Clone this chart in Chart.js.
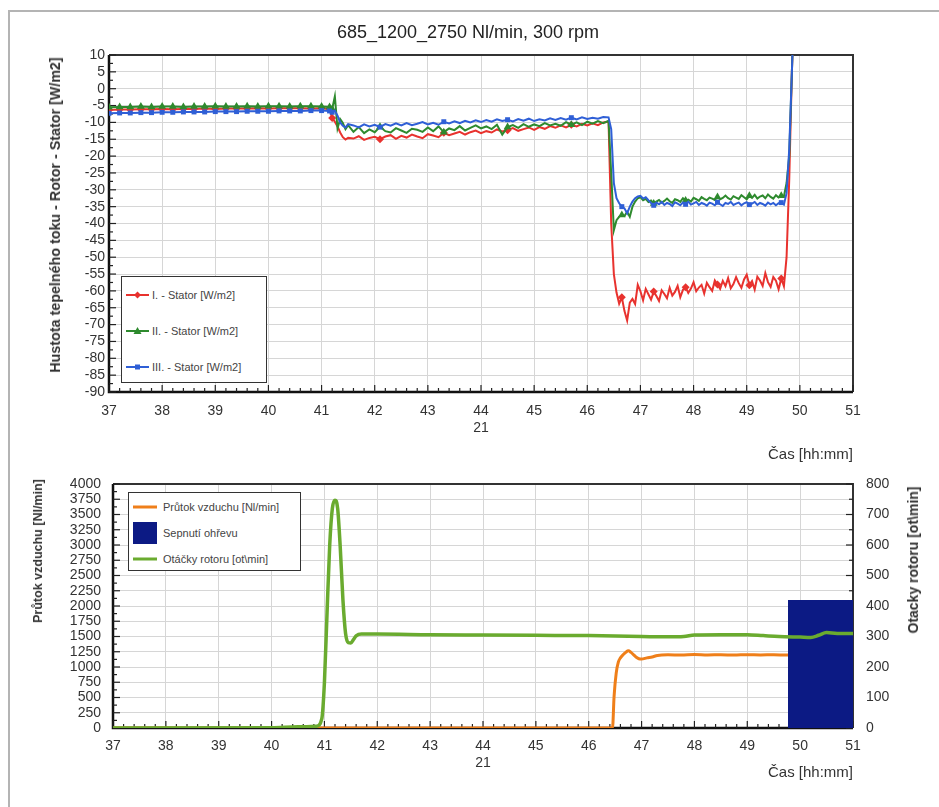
<!DOCTYPE html>
<html lang="cs">
<head>
<meta charset="utf-8">
<title>685_1200_2750 Nl/min, 300 rpm</title>
<script src="https://cdn.jsdelivr.net/npm/chart.js@4/dist/chart.umd.min.js"></script>
<style>
    body { margin: 0; background: #fff; font-family: "Liberation Sans", Arial, sans-serif; }
    #plocha { position: relative; width: 939px; height: 807px; overflow: hidden; }
    #okraj { position: absolute; left: 8px; top: 10px; right: -10px; bottom: -10px;
             border-top: 2px solid #b4b4b4; border-left: 2px solid #b4b4b4; }
    canvas { position: absolute; left: 0; }
    .nadpis { position: absolute; left: 468px; top: 32px; transform: translate(-50%, -50%);
              font-size: 18px; color: #222; white-space: nowrap; }
    .osa { position: absolute; transform: translate(-50%, -50%) rotate(-90deg);
           font-size: 13px; font-weight: bold; color: #333; white-space: nowrap; }
    .legenda { position: absolute; background: #fff; border: 1px solid #333; box-sizing: border-box; }
    .polozka { position: absolute; font-size: 11px; color: #444; white-space: nowrap; transform: translateY(-50%); }
    .ikona { position: absolute; transform: translateY(-50%); }
</style>
</head>
<body>
<div id="plocha">
    <div id="okraj"></div>
    <canvas id="grafHorni" width="939" height="464" style="top:0"></canvas>
    <canvas id="grafDolni" width="939" height="343" style="top:464px"></canvas>

    <div class="nadpis">685_1200_2750 Nl/min, 300 rpm</div>
    <div class="osa" style="left:55px; top:215px; font-size:14.3px">Hustota tepelného toku - Rotor - Stator [W/m2]</div>
    <div class="osa" style="left:38px; top:551px; font-size:12.5px">Průtok vzduchu [Nl/min]</div>
    <div class="osa" style="left:913px; top:560px; font-size:14px">Otacky rotoru [ot\min]</div>

    <!-- legenda horniho grafu -->
    <div class="legenda" style="left:121px; top:276px; width:146px; height:107px">
        <svg class="ikona" style="left:4px; top:18px" width="24" height="10">
            <line x1="0" y1="5" x2="23" y2="5" stroke="#e8322e" stroke-width="2"/>
            <polygon points="11.5,1.5 15,5 11.5,8.5 8,5" fill="#e8322e"/>
        </svg>
        <div class="polozka" style="left:30px; top:18px">I. - Stator [W/m2]</div>
        <svg class="ikona" style="left:4px; top:54px" width="24" height="10">
            <line x1="0" y1="5" x2="23" y2="5" stroke="#2e8a2e" stroke-width="2"/>
            <polygon points="11.5,1 15.5,8 7.5,8" fill="#2e8a2e"/>
        </svg>
        <div class="polozka" style="left:30px; top:54px">II. - Stator [W/m2]</div>
        <svg class="ikona" style="left:4px; top:90px" width="24" height="10">
            <line x1="0" y1="5" x2="23" y2="5" stroke="#2f5fd6" stroke-width="2"/>
            <rect x="9" y="2.5" width="5" height="5" fill="#2f5fd6"/>
        </svg>
        <div class="polozka" style="left:30px; top:90px">III. - Stator [W/m2]</div>
    </div>

    <!-- legenda dolniho grafu -->
    <div class="legenda" style="left:128px; top:492px; width:173px; height:79px">
        <svg class="ikona" style="left:4px; top:14px" width="24" height="6">
            <line x1="0" y1="3" x2="24" y2="3" stroke="#ef7f1a" stroke-width="3"/>
        </svg>
        <div class="polozka" style="left:34px; top:14px">Průtok vzduchu [Nl/min]</div>
        <div class="ikona" style="left:4px; top:40px; width:24px; height:22px; background:#0c1a84"></div>
        <div class="polozka" style="left:34px; top:40px">Sepnutí ohřevu</div>
        <svg class="ikona" style="left:4px; top:66px" width="24" height="6">
            <line x1="0" y1="3" x2="24" y2="3" stroke="#6aab2f" stroke-width="3"/>
        </svg>
        <div class="polozka" style="left:34px; top:66px">Otáčky rotoru [ot\min]</div>
    </div>
</div>

<script>
// ===== DATA: horni graf (hustota tepelneho toku) =====
const casHorni = [
    37.0, 37.2, 37.4, 37.6, 37.8, 38.0, 38.2, 38.4, 38.6, 38.8, 39.0, 39.2, 39.4, 39.6, 39.8, 40.0, 40.2, 40.4, 40.6, 40.8, 41.0, 41.15,
    41.2, 41.25, 41.3, 41.35, 41.4, 41.45, 41.5,
    41.6, 41.7, 41.8, 41.9, 42.0, 42.1, 42.2, 42.3, 42.4, 42.5,
    42.6, 42.7, 42.8, 42.9, 43.0, 43.1, 43.2, 43.3, 43.4, 43.5,
    43.6, 43.7, 43.8, 43.9, 44.0, 44.1, 44.2, 44.3, 44.4, 44.5,
    44.6, 44.7, 44.8, 44.9, 45.0, 45.1, 45.2, 45.3, 45.4, 45.5,
    45.6, 45.7, 45.8, 45.9, 46.0, 46.1, 46.2, 46.3, 46.4,
    46.45, 46.5, 46.55, 46.6, 46.65, 46.7, 46.75, 46.8, 46.85, 46.9,
    46.95, 47.0, 47.05, 47.1, 47.15, 47.2, 47.25, 47.3, 47.35, 47.4,
    47.45, 47.5, 47.55, 47.6, 47.65, 47.7, 47.75, 47.8, 47.85, 47.9,
    47.95, 48.0, 48.05, 48.1, 48.15, 48.2, 48.25, 48.3, 48.35, 48.4,
    48.45, 48.5, 48.55, 48.6, 48.65, 48.7, 48.75, 48.8, 48.85, 48.9,
    48.95, 49.0, 49.05, 49.1, 49.15, 49.2, 49.25, 49.3, 49.35, 49.4,
    49.45, 49.5, 49.55, 49.6, 49.65, 49.7,
    49.75, 49.8, 49.85, 49.9
];

const statorI = [
    -6.3, -6.2, -6.2, -6.1, -6.1, -6.0, -6.1, -6.0, -6.0, -5.9, -6.0, -5.9, -5.9, -5.9, -5.8, -5.9, -5.8, -5.8, -5.8, -5.9, -5.8, -6.0,
    -8.7, -9.8, -11.2, -13.0, -14.4, -15.1, -14.6,
    -14.8, -14.1, -15.2, -14.6, -14.3, -15.0, -14.2, -13.8, -14.9, -14.0,
    -14.5, -13.6, -14.2, -14.7, -13.5, -13.9, -14.4, -13.1, -13.8, -13.3,
    -12.8, -13.6, -12.9, -12.4, -13.2, -12.6, -13.0, -12.1, -12.7, -12.3,
    -11.7, -12.5, -12.0, -11.5, -12.2, -11.4, -11.9, -11.1, -11.6, -10.9,
    -11.5, -10.7, -11.2, -10.4, -10.9, -10.3, -10.8, -10.0, -9.8,
    -40.0, -55.0, -60.5, -63.8, -61.9, -66.0, -68.8, -63.5, -62.4, -63.9,
    -58.2, -60.1, -62.8, -59.4, -61.0, -62.6, -60.2, -61.5, -63.0, -59.8,
    -60.9, -62.2, -59.1, -61.4, -60.3, -58.5, -61.9, -59.7, -58.9, -60.6,
    -59.3, -57.4, -60.1, -59.0, -58.2, -60.8, -57.6, -58.9, -60.0, -56.9,
    -58.1, -59.4, -57.0, -58.6, -56.2, -59.2, -58.0, -55.9, -57.7, -59.1,
    -56.6, -55.2, -58.3, -57.1, -59.6, -55.8, -56.9, -58.5, -54.7, -57.4,
    -58.8, -55.9, -57.0, -59.5, -56.3, -58.6,
    -50.0, -27.0, 5.0, 30.0
];

const statorII = [
    -5.5, -5.4, -5.4, -5.3, -5.4, -5.3, -5.3, -5.4, -5.3, -5.3, -5.2, -5.3, -5.3, -5.2, -5.3, -5.2, -5.2, -5.3, -5.2, -5.2, -5.3, -5.4,
    -6.0, -2.3, -11.8, -9.0, -10.2, -12.0, -10.8,
    -12.8, -11.4, -13.2, -12.1, -12.9, -11.3, -12.6, -13.0, -11.7, -12.4,
    -13.1, -11.9, -12.2, -12.8, -11.5, -12.6, -11.2, -12.9, -11.8, -12.3,
    -11.1, -12.4, -11.6, -10.9, -11.8, -11.2, -12.0, -10.7, -13.6, -11.4,
    -10.8, -11.6, -10.5, -11.3, -10.6, -11.1, -10.2, -10.9, -10.4, -11.0,
    -9.9, -10.7, -10.0, -10.8, -9.8, -10.4, -9.6, -10.2, -9.5,
    -25.0, -42.0, -39.0, -38.0, -37.5, -37.8, -36.5, -38.0, -35.0, -33.5,
    -32.5, -32.2, -33.1, -32.7, -33.6, -33.2, -34.1, -33.5, -33.0, -33.8,
    -33.3, -32.6, -33.4, -33.9, -32.8, -33.1, -33.6, -32.5, -33.2, -32.9,
    -33.5, -32.4, -32.8, -33.3, -32.2, -32.7, -33.1, -32.3, -32.6, -33.0,
    -32.1, -32.8, -32.4, -31.7, -32.5, -32.9, -31.9, -32.3, -32.7, -31.6,
    -32.2, -32.8, -31.8, -32.4, -31.5, -32.6, -32.0, -31.7, -32.5, -31.4,
    -32.1, -32.6, -31.6, -32.3, -31.8, -32.0,
    -28.0, -20.0, 5.0, 30.0
];

const statorIII = [
    -7.3, -7.2, -7.2, -7.1, -7.1, -7.0, -7.0, -6.9, -6.9, -6.9, -6.8, -6.8, -6.8, -6.7, -6.7, -6.7, -6.6, -6.6, -6.6, -6.5, -6.5, -6.6,
    -7.0, -6.5, -8.0, -10.0, -11.0, -11.5, -10.5,
    -10.9, -11.5, -10.6, -11.2, -10.7, -11.4, -10.5, -11.0, -10.3, -10.9,
    -10.2, -10.8, -10.4, -9.9, -10.6, -10.1, -10.7, -9.8, -10.3, -9.7,
    -10.2, -9.5, -10.0, -9.4, -9.9, -9.3, -9.8, -9.1, -9.6, -9.2,
    -9.7, -9.0, -9.5, -8.9, -9.6, -9.1, -9.4, -8.8, -9.3, -8.7,
    -9.2, -8.6, -9.1, -8.5, -9.0, -8.6, -8.9, -8.4, -8.5,
    -12.0, -28.0, -32.5, -34.0, -35.0, -35.5, -37.0, -35.0, -33.5, -32.5,
    -32.0, -31.8, -32.6, -32.2, -33.1, -33.9, -34.6, -33.8, -34.3, -33.6,
    -34.5, -33.9, -34.2, -34.8, -33.7, -34.1, -34.6, -33.8, -34.3, -33.5,
    -34.4, -34.0, -33.6, -34.5, -33.9, -34.2, -34.7, -33.8, -34.1, -34.6,
    -33.7, -34.3, -34.8, -33.9, -34.2, -33.6, -34.5, -34.1, -33.8, -34.6,
    -34.0, -33.7, -34.4, -34.1, -33.6, -34.5, -33.9, -34.2, -34.7, -33.8,
    -34.3, -33.9, -34.6, -34.0, -33.8, -34.4,
    -31.0, -18.0, 5.0, 30.0
];

// ===== DATA: dolni graf (prutok, ohrev, otacky) =====
const casPrutok = [37.0, 46.45, 46.48, 46.52, 46.56, 46.6, 46.65, 46.7, 46.75, 46.8, 46.85, 46.9, 46.95, 47.0, 47.1,
                   47.2, 47.3, 47.5, 47.75, 48.0, 48.25, 48.5, 48.75, 49.0, 49.25, 49.5, 49.75, 50.0, 50.5, 51.0];
const prutok = [0, 0, 520, 900, 1080, 1150, 1200, 1240, 1265, 1240, 1200, 1160, 1135, 1130, 1150,
                1165, 1190, 1200, 1195, 1205, 1198, 1200, 1196, 1202, 1198, 1200, 1197, 1200, 1200, 1200];

const casOhrev = [49.77, 49.77, 51.0];
const ohrev = [0, 2100, 2100];

const casOtacky = [37.0, 40.0, 40.5, 40.85, 40.95, 41.0, 41.05, 41.1, 41.15, 41.2, 41.25, 41.3, 41.35, 41.4, 41.45,
                   41.5, 41.55, 41.6, 41.7, 42.0, 43.0, 44.0, 45.0, 46.0, 46.5, 47.0, 47.5, 47.8, 48.0, 48.5,
                   49.0, 49.3, 49.6, 50.0, 50.2, 50.35, 50.5, 50.7, 51.0];
const otacky = [0, 1, 4, 6, 30, 150, 380, 600, 720, 747, 720, 590, 420, 310, 280,
                279, 290, 302, 308, 308, 306, 305, 304, 303, 302, 300, 299, 300, 305, 306,
                306, 303, 300, 298, 297, 304, 313, 310, 310];

// ===== POMOCNE FUNKCE =====
const body = (xs, ys) => xs.map((x, i) => ({ x: x, y: ys[i] }));
Chart.defaults.font.family = '"Liberation Sans", Arial, sans-serif';
Chart.defaults.color = '#333';

// znacky jen na kazdem n-tem bodu (v klidove casti na vsech)
const znacka = (r) => (ctx) => (ctx.dataIndex < 23 || (ctx.dataIndex - 22) % 12 === 0) ? r : 0;

// ramecek grafu + vnitrni (i vedlejsi) carky na osach
const ramecek = {
    id: 'ramecek',
    beforeDatasetsDraw(chart, args, opts) {
        const { ctx, chartArea: a } = chart;
        ctx.save();
        ctx.lineWidth = 2;
        ctx.strokeStyle = '#333';
        ctx.beginPath();
        ctx.moveTo(a.left, a.top); ctx.lineTo(a.right, a.top); ctx.lineTo(a.right, a.bottom);
        ctx.stroke();
        ctx.lineWidth = 2.5;
        ctx.strokeStyle = '#111';
        ctx.beginPath();
        ctx.moveTo(a.left, a.top); ctx.lineTo(a.left, a.bottom); ctx.lineTo(a.right, a.bottom);
        ctx.stroke();

        ctx.lineWidth = 1.2;
        ctx.strokeStyle = '#222';
        (opts.ticky || []).forEach(t => {
            const s = chart.scales[t.osa];
            const n = Math.round((s.max - s.min) / t.krok);
            for (let i = 0; i <= n; i++) {
                const p = s.getPixelForValue(s.min + i * t.krok);
                const len = (i % t.kazdy === 0) ? 7 : 4;
                ctx.beginPath();
                if (t.strana === 'dole') { ctx.moveTo(p, a.bottom); ctx.lineTo(p, a.bottom - len); }
                else if (t.strana === 'vlevo') { ctx.moveTo(a.left, p); ctx.lineTo(a.left + len, p); }
                else { ctx.moveTo(a.right, p); ctx.lineTo(a.right - len, p); }
                ctx.stroke();
            }
        });
        ctx.restore();
    }
};

const mrizka = { color: '#d6d6d6', lineWidth: 1, drawTicks: false };
const osaX = (vyska, pad, titlePad) => ({
    type: 'linear', min: 37, max: 51,
    grid: mrizka,
    border: { display: false },
    afterFit: (s) => { s.height = vyska; },
    ticks: {
        stepSize: 1, autoSkip: false, maxRotation: 0, padding: pad,
        font: { size: 14 }, color: '#333',
        callback: (v) => v === 44 ? ['44', '21'] : String(v)
    },
    title: { display: true, text: 'Čas [hh:mm]', align: 'end', font: { size: 15 }, color: '#333', padding: { top: 0, bottom: titlePad } }
});
const osaY = (min, max, krok, sirka, pad, pozice, sit) => ({
    position: pozice, min: min, max: max,
    grid: sit ? mrizka : { display: false, drawTicks: false },
    border: { display: false },
    afterFit: (s) => { s.width = sirka; },
    ticks: { stepSize: krok, autoSkip: false, padding: pad, font: { size: 14, lineHeight: 1 }, color: '#333',
             callback: (v) => String(v) }
});

// ===== HORNI GRAF =====
new Chart(document.getElementById('grafHorni'), {
    type: 'line',
    data: {
        datasets: [
            {
                label: 'I. - Stator [W/m2]',
                data: body(casHorni, statorI),
                borderColor: '#e8322e', backgroundColor: '#e8322e',
                borderWidth: 2, pointStyle: 'rectRot', pointRadius: znacka(4), pointBorderWidth: 0,
                order: 3
            },
            {
                label: 'II. - Stator [W/m2]',
                data: body(casHorni, statorII),
                borderColor: '#2e8a2e', backgroundColor: '#2e8a2e',
                borderWidth: 2, pointStyle: 'triangle', pointRadius: znacka(4.5), pointBorderWidth: 0,
                order: 2
            },
            {
                label: 'III. - Stator [W/m2]',
                data: body(casHorni, statorIII),
                borderColor: '#2f5fd6', backgroundColor: '#2f5fd6',
                borderWidth: 2, pointStyle: 'rect', pointRadius: znacka(3.5), pointBorderWidth: 0,
                order: 1
            }
        ]
    },
    options: {
        responsive: false, animation: false, devicePixelRatio: 1,
        layout: { padding: { left: 0, top: 55, right: 86, bottom: 0 } },
        elements: { line: { tension: 0 } },
        plugins: {
            legend: { display: false }, tooltip: { enabled: false },
            ramecek: { ticky: [
                { osa: 'x', krok: 0.2, kazdy: 5, strana: 'dole' },
                { osa: 'y', krok: 2.5, kazdy: 2, strana: 'vlevo' }
            ] }
        },
        scales: {
            x: osaX(72, 11, 0),
            y: osaY(-90, 10, 5, 109, 4, 'left', true)
        }
    },
    plugins: [ramecek]
});

// ===== DOLNI GRAF =====
new Chart(document.getElementById('grafDolni'), {
    type: 'line',
    data: {
        datasets: [
            {
                label: 'Průtok vzduchu [Nl/min]',
                data: body(casPrutok, prutok),
                borderColor: '#ef7f1a', borderWidth: 3, pointRadius: 0,
                cubicInterpolationMode: 'monotone', yAxisID: 'y', order: 3
            },
            {
                label: 'Sepnutí ohřevu',
                data: body(casOhrev, ohrev),
                borderColor: '#0c1a84', backgroundColor: '#0c1a84', borderWidth: 0, pointRadius: 0,
                fill: 'origin', tension: 0, yAxisID: 'y', order: 2
            },
            {
                label: 'Otáčky rotoru [ot\\min]',
                data: body(casOtacky, otacky),
                borderColor: '#6aab2f', borderWidth: 3.5, pointRadius: 0,
                cubicInterpolationMode: 'monotone', yAxisID: 'y1', order: 1
            }
        ]
    },
    options: {
        responsive: false, animation: false, devicePixelRatio: 1,
        layout: { padding: { left: 0, top: 20, right: 0, bottom: 0 } },
        plugins: {
            legend: { display: false }, tooltip: { enabled: false },
            ramecek: { ticky: [
                { osa: 'x', krok: 0.2, kazdy: 5, strana: 'dole' },
                { osa: 'y', krok: 125, kazdy: 2, strana: 'vlevo' },
                { osa: 'y1', krok: 50, kazdy: 2, strana: 'vpravo' }
            ] }
        },
        scales: {
            x: osaX(79, 10, 25),
            y: osaY(0, 4000, 250, 113, 12, 'left', true),
            y1: osaY(0, 800, 100, 86, 13, 'right', false)
        }
    },
    plugins: [ramecek]
});
</script>
</body>
</html>
